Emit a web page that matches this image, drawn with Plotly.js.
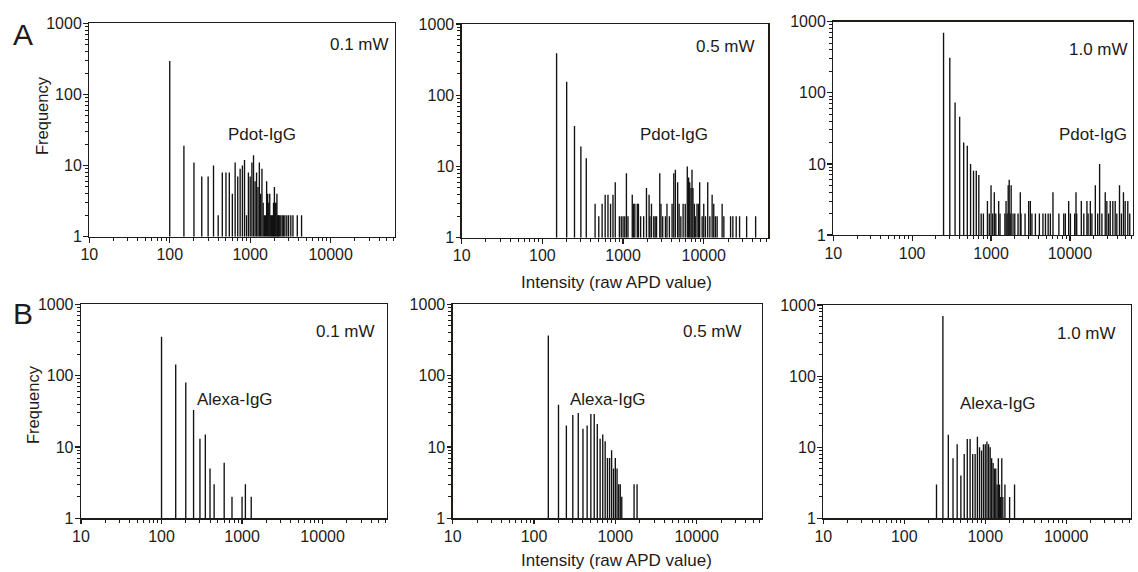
<!DOCTYPE html>
<html>
<head>
<meta charset="utf-8">
<script src="https://cdn.plot.ly/plotly-3.0.1.min.js"></script>
<style>html,body{margin:0;padding:0;background:#fff;}#chart{width:1138px;height:572px;}</style>
</head>
<body>
<div id="chart"></div>
<script>
// ---------- DATA (intensity bin, frequency) ----------
const a1Intensity = [100,150,200,250,300,350,400,450,500,550,600,650,700,750,800,850,900,950,1000,1050,1100,1150,1200,1250,1300,1350,1400,1450,1500,1550,1600,1650,1700,1750,1800,1850,1900,1950,2000,2050,2100,2150,2200,2250,2300,2400,2500,2600,2700,2850,3000,3200,3400,3850,4350];
const a1Freq      = [295,19,11,7,7,10,2,8,8,8,4,11,7,9,10,12,2,8,7,11,14,6,8,5,11,4,9,3,2,2,6,4,3,4,2,2,2,3,5,3,3,4,2,2,2,2,2,2,2,2,2,2,2,2,2];

const a2Intensity = [150,200,250,300,350,450,500,550,600,650,700,750,800,900,950,1000,1050,1100,1150,1300,1350,1400,1500,1550,1650,1800,1950,2100,2150,2250,2400,2500,2600,2850,2950,3100,3350,3500,3750,4050,4250,4450,4750,4950,5200,5550,5900,6250,6500,6700,6950,7150,7350,7650,7850,8250,8600,8900,9550,10000,10500,11200,11900,12700,13300,13950,14650,16900,17750,21500,22950,25250,27800,34000,43950];
const a2Freq      = [387,155,37,19,13,3,2,3,4,4,3,4,6,2,2,2,2,8,2,4,3,3,3,3,2,2,5,4,2,3,2,2,2,8,3,2,2,3,2,3,8,9,6,3,2,3,3,10,7,6,5,9,5,3,2,3,3,6,2,3,2,6,2,4,3,2,2,3,2,2,2,2,2,2,2];

const a3Intensity = [250,300,350,400,450,500,550,600,650,700,750,800,900,950,1000,1050,1100,1150,1250,1300,1500,1550,1600,1650,1700,1750,1800,1900,2000,2200,2350,2400,2700,3000,3150,3300,3650,4100,4550,4900,5300,5650,6100,7250,8350,8750,9650,10150,11500,11950,12200,13950,15000,16450,17000,18150,19000,21000,22500,23800,25450,28050,29400,31000,32450,35000,37500,39350,42550,45000,47750,50200,54200,57400];
const a3Freq      = [700,310,73,46,20,18,10,8,8,7,2,2,3,2,5,2,4,2,3,2,2,3,2,5,6,2,5,2,2,2,4,2,2,3,3,2,2,2,2,2,2,2,4,2,2,2,3,2,2,4,2,3,2,3,2,3,2,5,2,10,2,4,3,2,3,3,3,2,5,2,4,3,3,2];

const b1Intensity = [100,150,200,250,300,350,400,450,600,750,1000,1100,1300];
const b1Freq      = [351,143,80,33,13,15,5,3,6,2,2,3,2];

const b2Intensity = [150,200,250,300,350,400,450,500,550,600,650,700,750,800,850,900,950,1000,1050,1100,1150,1200,1700,1850];
const b2Freq      = [364,39,20,28,30,18,20,29,29,21,13,15,12,7,7,9,5,7,5,3,3,2,3,3];

const b3Intensity = [250,300,350,400,450,500,550,600,650,700,750,800,850,900,950,1000,1050,1100,1150,1200,1250,1300,1350,1400,1450,1500,1550,1600,1650,1750,2000,2300];
const b3Freq      = [3,700,15,7,11,4,8,13,13,8,8,14,10,9,11,11,12,11,10,7,6,5,5,3,7,3,2,7,2,3,2,3];

const xTickVals = [10,100,1000,10000];
const yTickVals = [1,10,100,1000];
const powerLabels = ['0.1 mW','0.5 mW','1.0 mW','0.1 mW','0.5 mW','1.0 mW'];
const sampleLabels = ['Pdot-IgG','Pdot-IgG','Pdot-IgG','Alexa-IgG','Alexa-IgG','Alexa-IgG'];
const rowLabels = ['A','B'];
const xTitle = 'Intensity (raw APD value)';
const yTitle = 'Frequency';

// ---------- LAYOUT ----------
const W = 1138, H = 572;
const px = v => v / W;
const py = v => 1 - v / H;

// minor tick positions (2..9 within each decade)
const minorsOf = (decades, maxV) => {
  const out = [];
  decades.forEach(d => { for (let m = 2; m <= 9; m++) if (m * d < maxV) out.push(m * d); });
  return out;
};
const xMinor = minorsOf(xTickVals, 63000);
const yMinor = minorsOf([1, 10, 100], 1000);
const allTicks = (major, minor) => ({
  tickvals: major.concat(minor),
  ticktext: major.map(String).concat(minor.map(() => ''))
});

const series = [
  [a1Intensity, a1Freq], [a2Intensity, a2Freq], [a3Intensity, a3Freq],
  [b1Intensity, b1Freq], [b2Intensity, b2Freq], [b3Intensity, b3Freq]
];
// plot areas in pixels: [x0, x1, yTop, yBottom]
const boxes = [
  [89.3, 395, 23.3, 236.7], [461.7, 768.3, 24, 237.7], [833.3, 1133, 21.7, 235],
  [81, 387, 304.3, 518.3], [452.7, 761.7, 304.3, 518.3], [823.3, 1131, 305, 518.3]
];
const powerPos = [[359,45],[725,46],[1098,50],[345,331],[712,331],[1086,333]];
const samplePos = [[262,134],[674,134],[1093,134],[235,399],[608,399],[998,403]];

const FONT = 'Liberation Sans, Arial, Helvetica, sans-serif';
const INK = '#1e1b18';
const XR = [1, 4.8], YR = [0, 3];

const traces = [];
const layout = {
  width: W, height: H,
  margin: {l:0, r:0, t:0, b:0},
  paper_bgcolor: '#ffffff', plot_bgcolor: '#ffffff',
  showlegend: false,
  font: {family: FONT, color: INK},
  annotations: []
};

// main axes: all ticks short (minor length), labels on decades
const axBase = {
  type: 'log', showgrid: false, zeroline: false,
  showline: true, mirror: true, linecolor: INK, linewidth: 1.3,
  ticks: 'outside', ticklen: 3, tickwidth: 1, tickcolor: INK,
  tickfont: {family: FONT, size: 16, color: INK},
  tickmode: 'array', fixedrange: true
};
// overlay axes: longer decade ticks
const majorBase = {
  type: 'log', showgrid: false, zeroline: false, showline: false,
  ticks: 'outside', ticklen: 5, tickwidth: 1.2, tickcolor: INK,
  showticklabels: false, tickmode: 'array', fixedrange: true
};

series.forEach(([xs, fs], i) => {
  const lx = [], ly = [];
  xs.forEach((v, k) => { lx.push(v, v, null); ly.push(1, fs[k], null); });
  const n = i === 0 ? '' : String(i + 1);
  traces.push({
    type: 'scatter', mode: 'lines', x: lx, y: ly,
    xaxis: 'x' + n, yaxis: 'y' + n,
    line: {color: '#111', width: 1.35}, hoverinfo: 'skip', connectgaps: false
  });
  const b = boxes[i];
  layout['xaxis' + n] = Object.assign({}, axBase, {
    domain: [px(b[0]), px(b[1])], range: XR, anchor: 'y' + n
  }, allTicks(xTickVals, xMinor));
  layout['yaxis' + n] = Object.assign({}, axBase, {
    domain: [py(b[3]), py(b[2])], range: YR, anchor: 'x' + n
  }, allTicks(yTickVals, yMinor));
  const m = String(i + 7);
  layout['xaxis' + m] = Object.assign({}, majorBase, {
    overlaying: 'x' + n, anchor: 'y' + n, side: 'bottom', range: XR, tickvals: xTickVals
  });
  layout['yaxis' + m] = Object.assign({}, majorBase, {
    overlaying: 'y' + n, anchor: 'x' + n, side: 'left', range: YR, tickvals: yTickVals
  });
  // empty trace so the overlay axes get drawn
  traces.push({type: 'scatter', mode: 'lines', x: [], y: [], xaxis: 'x' + m, yaxis: 'y' + m, hoverinfo: 'skip'});
  layout.annotations.push({
    xref: 'paper', yref: 'paper', x: px(powerPos[i][0]), y: py(powerPos[i][1]),
    xanchor: 'center', yanchor: 'middle', showarrow: false, text: powerLabels[i],
    font: {family: FONT, size: 17, color: INK}
  });
  layout.annotations.push({
    xref: 'paper', yref: 'paper', x: px(samplePos[i][0]), y: py(samplePos[i][1]),
    xanchor: 'center', yanchor: 'middle', showarrow: false, text: sampleLabels[i],
    font: {family: FONT, size: 17, color: INK}
  });
});

// row letters
[[23,34],[23,313]].forEach((p, r) => layout.annotations.push({
  xref:'paper', yref:'paper', x:px(p[0]), y:py(p[1]), xanchor:'center', yanchor:'middle',
  showarrow:false, text: rowLabels[r], font:{family:FONT, size:30, color:INK}
}));
// y titles
[[42,116],[33,405]].forEach(p => layout.annotations.push({
  xref:'paper', yref:'paper', x:px(p[0]), y:py(p[1]), xanchor:'center', yanchor:'middle',
  showarrow:false, text: yTitle, textangle:-90, font:{family:FONT, size:16.5, color:INK}
}));
// x titles
[[616,282],[616,560]].forEach(p => layout.annotations.push({
  xref:'paper', yref:'paper', x:px(p[0]), y:py(p[1]), xanchor:'center', yanchor:'middle',
  showarrow:false, text: xTitle, font:{family:FONT, size:17, color:INK}
}));

Plotly.newPlot('chart', traces, layout, {displayModeBar:false, staticPlot:true});
</script>
</body>
</html>
